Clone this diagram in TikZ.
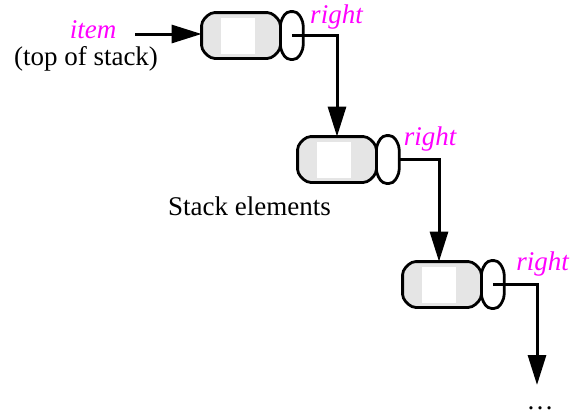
\documentclass[tikz,border=0pt]{standalone}
\usepackage{fontspec}
\setmainfont{Liberation Serif}
\usetikzlibrary{arrows.meta,positioning}
\colorlet{elemfill}{gray!20}
\definecolor{labmag}{RGB}{255,0,255}
% octagon round a node: node, x cut, y cut, fill
\newcommand{\octo}[4]{%
  \filldraw[line width=1.4pt, rounded corners=2pt, fill=#4]
    ([xshift=#2]#1.north west) -- ([xshift=-#2]#1.north east)
    -- ([yshift=-#3]#1.north east) -- ([yshift=#3]#1.south east)
    -- ([xshift=-#2]#1.south east) -- ([xshift=#2]#1.south west)
    -- ([yshift=#3]#1.south west) -- ([yshift=-#3]#1.north west) -- cycle;}

\begin{document}
\begin{tikzpicture}[x=0.5pt, y=-0.5pt,
      body/.style={minimum width=39pt, minimum height=22.5pt, inner sep=0},
      core/.style={fill=white, minimum width=17pt, minimum height=18pt,
                   inner sep=0},
      link/.style={minimum width=11pt, minimum height=23.5pt, inner sep=0},
      arr/.style={-{Triangle[length=15pt, width=9pt]}, line width=1.5pt},
      txt/.style={font=\fontsize{13.5}{16}\selectfont, inner sep=0, anchor=base},
      ptr/.style={txt, font=\fontsize{13.5}{16}\selectfont\itshape, text=labmag}
    ]
    \useasboundingbox (0,0) rectangle (578,413);
    % stack elements
    \node[body] (b1) at (241,35.5) {};
    \octo{b1}{4.5pt}{4.5pt}{elemfill}
    \node[core] (c1) at ([xshift=-1.5pt]b1.center) {};
    \node[link, right=0pt of b1] (l1) {};
    \octo{l1}{3pt}{5pt}{white}
    \node[body] (b2) at (337,159.5) {};
    \octo{b2}{4.5pt}{4.5pt}{elemfill}
    \node[core] (c2) at ([xshift=-1.5pt]b2.center) {};
    \node[link, right=0pt of b2] (l2) {};
    \octo{l2}{3pt}{5pt}{white}
    \node[body] (b3) at (442,284.5) {};
    \octo{b3}{4.5pt}{4.5pt}{elemfill}
    \node[core] (c3) at ([xshift=-1.5pt]b3.center) {};
    \node[link, right=0pt of b3] (l3) {};
    \octo{l3}{3pt}{5pt}{white}
    % labels
    \node[ptr] (item) at (93,38) {item};
    \node[txt] (top) at (86,65) {(top of stack)};
    \node[txt] (elems) at (249.5,215) {Stack elements};
    \node[ptr] (r1) at (336.5,23) {right};
    \node[ptr] (r2) at (430,145) {right};
    \node[ptr] (r3) at (542.5,270) {right};
    \node[txt] (more) at (540,409) {\dots};
    % pointers
    \coordinate (in) at (135,34);
    \coordinate (out) at (537,385);
    \draw[arr] (in) -- (b1.west |- in);
    \draw[arr] (l1.center) -| (b2.north);
    \draw[arr] (l2.east) -| ([xshift=-1.5pt]b3.north);
    \draw[arr] (l3.center) -| (out);
  \end{tikzpicture}
\end{document}
